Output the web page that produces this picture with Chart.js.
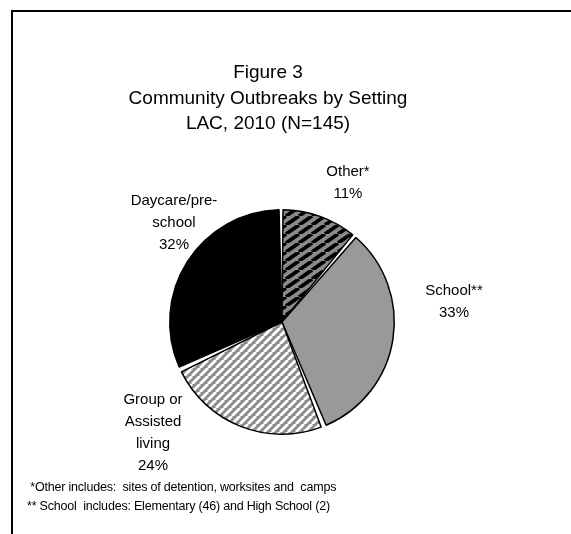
<!DOCTYPE html>
<html>
<head>
<meta charset="utf-8">
<script src="https://cdn.jsdelivr.net/npm/chart.js@4.4.1/dist/chart.umd.min.js"></script>
<style>
    html, body { margin: 0; padding: 0; background: #fff; }
    body { width: 571px; height: 534px; position: relative; overflow: hidden; font-family: "Liberation Sans", Arial, sans-serif; }
    .frame { position: absolute; left: 11px; top: 10px; right: -10px; bottom: -10px; border-top: 2px solid #000; border-left: 2px solid #000; }
    #chart { position: absolute; left: 0; top: 0; }
    .title { position: absolute; left: 0; width: 536px; top: 59px; text-align: center; font-size: 19px; line-height: 25.5px; color: #000; }
    .notes { position: absolute; left: 27px; top: 478px; font-size: 12.5px; line-height: 19px; color: #000; letter-spacing: -0.2px; white-space: pre; }
</style>
</head>
<body>
<div class="frame"></div>
<canvas id="chart" width="571" height="534"></canvas>
<div class="title">Figure 3<br>Community Outbreaks by Setting<br>LAC, 2010 (N=145)</div>
<div class="notes"> *Other includes:  sites of detention, worksites and  camps
** School  includes: Elementary (46) and High School (2)</div>
<script>
// Community outbreaks by setting, LAC 2010 (percent of N=145)
const settings = ['Other*', 'School**', 'Group or Assisted living', 'Daycare/pre-school'];
const settingLines = [['Other*'], ['School**'], ['Group or', 'Assisted', 'living'], ['Daycare/pre-', 'school']];
const percents = [11, 33, 24, 32];

// first-line anchor of each label, relative to the pie centre (layout only)
const labelOffsets = [[66, -150], [172, -31], [-129, 78], [-108, -121]];

// diagonal "/" stripes on a w x h tile
const stripes = (base, line, w, h, width) => {
    const c = document.createElement('canvas');
    c.width = w; c.height = h;
    const g = c.getContext('2d');
    g.fillStyle = base;
    g.fillRect(0, 0, w, h);
    g.strokeStyle = line;
    g.lineWidth = width;
    [-w, 0, w].forEach((o) => {
        g.beginPath();
        g.moveTo(o, h);
        g.lineTo(o + w, 0);
        g.stroke();
    });
    return g.createPattern(c, 'repeat');
};

const ctx = document.getElementById('chart').getContext('2d');
const fills = [
    stripes('#8a8a8a', '#000', 13, 9, 3.8),
    '#999999',
    stripes('#8c8c8c', '#fff', 8, 8, 2.8),
    '#000000',
];

const sliceLabels = {
    id: 'sliceLabels',
    afterDraw(chart) {
        const g = chart.ctx;
        const arcs = chart.getDatasetMeta(0).data;
        g.save();
        g.fillStyle = '#000';
        g.font = '15px "Liberation Sans", Arial, sans-serif';
        g.textAlign = 'center';
        g.textBaseline = 'middle';
        arcs.forEach((arc, i) => {
            const lines = [...settingLines[i], percents[i] + '%'];
            const [dx, dy] = labelOffsets[i];
            lines.forEach((t, j) => g.fillText(t, arc.x + dx, arc.y + dy + j * 22));
        });
        g.restore();
    },
};

new Chart(ctx, {
    type: 'pie',
    data: {
        labels: settings,
        datasets: [{
            data: percents,
            backgroundColor: fills,
            borderColor: '#000',
            borderWidth: 1.5,
            spacing: 3,
        }],
    },
    options: {
        responsive: false,
        animation: false,
        layout: { padding: { left: 169, top: 209, right: 176, bottom: 99 } },
        plugins: { legend: { display: false }, tooltip: { enabled: false } },
    },
    plugins: [sliceLabels],
});
</script>
</body>
</html>
